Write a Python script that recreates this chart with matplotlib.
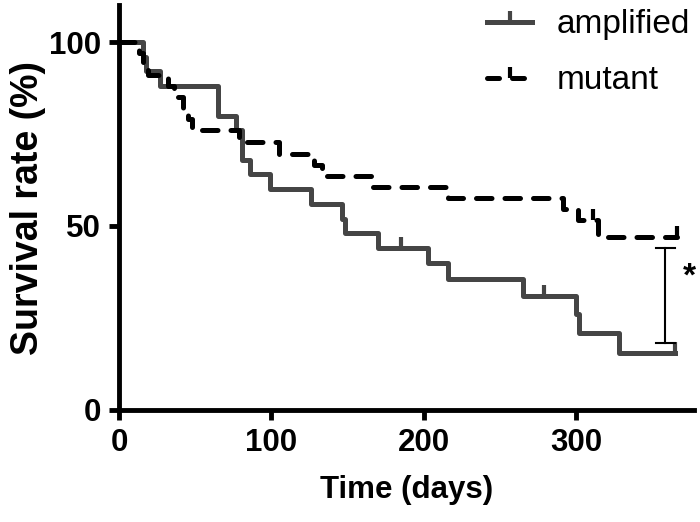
import matplotlib
matplotlib.use("Agg")
import matplotlib.pyplot as plt
from matplotlib import font_manager
from matplotlib.lines import Line2D

# Kaplan-Meier steps: day of step, survival (%) after it
amp_days = [0, 16, 18, 27, 65, 77, 81, 86, 99, 126, 146, 148, 170, 203, 216, 265, 300, 302, 328, 365]
amp_surv = [100, 96, 92, 88, 80, 76, 68, 64, 60, 56, 52, 48, 44, 40, 35.5, 31, 26, 21, 15.5, 15.5]
amp_cens_days = [185, 279, 365]
amp_cens_surv = [44, 31, 15.5]

mut_days = [0, 13, 16, 19, 32, 36, 42, 45, 48, 79, 105, 128, 133, 166, 216, 291, 301, 314, 366]
mut_surv = [100, 97, 94, 91, 88, 85, 82, 79, 76, 72.7, 69.7, 66.7, 63.6, 60.6, 57.6, 54.5, 51.5, 47, 47]
mut_cens_days = [311, 366]
mut_cens_surv = [51.5, 47]

series_labels = ["amplified", "mutant"]
x_ticks = [0, 100, 200, 300]
y_ticks = [0, 50, 100]

# significance bracket between the two curves at the end
sig_day = 358.5
sig_low, sig_high = 18.2, 43.9

names = {f.name for f in font_manager.fontManager.ttflist}
narrow = "Liberation Sans Narrow" if "Liberation Sans Narrow" in names else "Liberation Sans"
tick_size = 25 if narrow == "Liberation Sans Narrow" else 22.5

gray = "#454545"
lw = 3.6

fig = plt.figure(figsize=(7, 5.22), dpi=100)
ax = fig.add_axes([0.17, 0.2146, 0.821, 0.7754])

ax.step(amp_days, amp_surv, where="post", color=gray, lw=lw)
ax.plot(amp_cens_days, amp_cens_surv, ls="none", marker=2, ms=8, mew=3, color=gray)

ax.step(mut_days, mut_surv, where="post", color="black", lw=lw,
        linestyle=(0, (3.1, 2.6)), dash_capstyle="round")
ax.plot(mut_cens_days, mut_cens_surv, ls="none", marker=2, ms=8, mew=3, color="black")

# bracket + star
ax.plot([sig_day, sig_day], [sig_low, sig_high], color="black", lw=1.5)
ax.plot([sig_day - 6, sig_day + 6], [sig_high, sig_high], color="black", lw=1.5)
ax.plot([sig_day - 6, sig_day + 6], [sig_low, sig_low], color="black", lw=1.5)
ax.text(374, 36, "*", fontsize=24, fontweight="bold", family="Liberation Sans",
        ha="center", va="center", clip_on=False)

ax.set_xlim(0, 377)
ax.set_ylim(0, 110)
ax.set_xticks(x_ticks)
ax.set_yticks(y_ticks)

for side in ["top", "right"]:
    ax.spines[side].set_visible(False)
for side in ["left", "bottom"]:
    ax.spines[side].set_linewidth(3.5)
ax.tick_params(direction="out", length=7, width=3.5, pad=6)
for lab in ax.get_xticklabels() + ax.get_yticklabels():
    lab.set_fontfamily(narrow)
    lab.set_fontweight("bold")
    lab.set_fontsize(tick_size)

ax.set_xlabel("Time (days)", fontsize=tick_size, fontweight="bold", family=narrow, labelpad=12)
ax.set_ylabel("Survival rate (%)", fontsize=27, fontweight="bold", family="Liberation Sans", labelpad=2)

handles = [
    Line2D([], [], color=gray, lw=lw, marker=2, ms=8, mew=3),
    Line2D([], [], color="black", lw=lw, linestyle=(0, (2.4, 2.6)), dash_capstyle="round",
           marker=2, ms=8, mew=3),
]
ax.legend(handles, series_labels, loc="upper left", bbox_to_anchor=(487 / 700, 0.982),
          bbox_transform=fig.transFigure, frameon=False, numpoints=1,
          prop={"family": "Liberation Sans", "size": 24},
          handlelength=1.36, handletextpad=0.72, labelspacing=0.75,
          borderpad=0, borderaxespad=0)

fig.savefig("out.png", dpi=100)
